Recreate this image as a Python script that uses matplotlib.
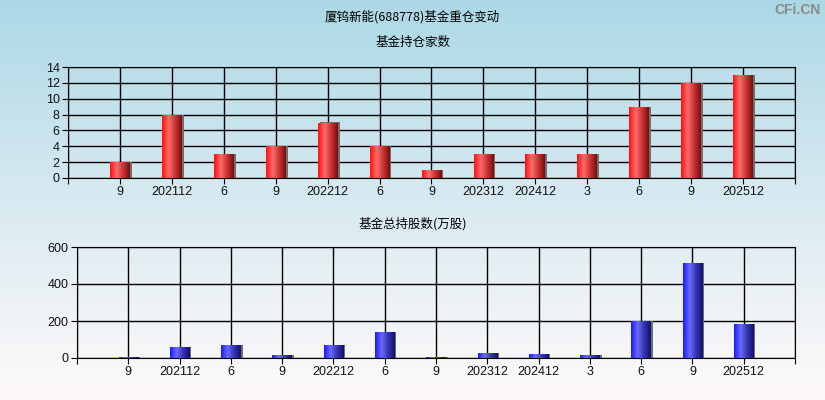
import numpy as np
import matplotlib
matplotlib.use('Agg')
import matplotlib.pyplot as plt
from matplotlib.colors import LinearSegmentedColormap

plt.rcParams['font.family'] = ['Liberation Sans', 'Noto Sans CJK SC', 'DejaVu Sans']

labels = ['9', '202112', '6', '9', '202212', '6', '9', '202312', '202412', '3', '6', '9', '202512']
fund_count = [2, 8, 3, 4, 7, 4, 1, 3, 3, 3, 9, 12, 13]
fund_shares = [6, 61, 72, 18, 72, 142, 4, 29, 23, 18, 198, 515, 186]

fig = plt.figure(figsize=(8.25, 4.0), dpi=100)

# background gradient
bg = fig.add_axes([0, 0, 1, 1], zorder=-10)
bg_cmap = LinearSegmentedColormap.from_list('bg', ['#acd8e6', '#d8eaf1', '#fffafa'])
bg.imshow(np.linspace(0, 1, 256).reshape(-1, 1), cmap=bg_cmap, aspect='auto', extent=[0, 1, 0, 1])
bg.axis('off')

red = LinearSegmentedColormap.from_list('red', ['#ff1010', '#ff6a6a', '#c83434', '#7a0c0c'])
blue = LinearSegmentedColormap.from_list('blue', ['#1a1aff', '#6a6aff', '#3434b0', '#101070'])
grad = np.linspace(0, 1, 64).reshape(1, -1)


def draw(ax, vals, cmap, ymax, yticks):
    x = np.arange(len(vals))
    w = 0.38
    ax.bar(x + 0.04, vals, w, color='#6e6e6e', zorder=2)
    bars = ax.bar(x, vals, w, color='none', zorder=3)
    for b in bars:
        im = ax.imshow(grad, cmap=cmap, aspect='auto', zorder=3,
                       extent=[b.get_x(), b.get_x() + b.get_width(), 0, b.get_height()])
        im.set_clip_path(b)
    ax.set_xlim(-1, len(vals))
    ax.set_ylim(0, ymax)
    ax.set_xticks(range(-1, len(vals) + 1))
    ax.set_xticklabels([''] + labels + [''])
    ax.set_yticks(yticks)
    ax.patch.set_alpha(0)
    ax.grid(True, color='black', lw=1, zorder=1)
    ax.set_axisbelow(True)
    for s in ax.spines.values():
        s.set_color('black')
    ax.tick_params(length=4, color='black', labelsize=9, labelcolor='#111111', pad=2)


ax1 = fig.add_axes([0.0824, 0.555, 0.8812, 0.2775])
draw(ax1, fund_count, red, 14, range(0, 15, 2))

ax2 = fig.add_axes([0.0933, 0.105, 0.8703, 0.2775])
draw(ax2, fund_shares, blue, 600, [0, 200, 400, 600])

fig.text(0.5, 0.957, '厦钨新能(688778)基金重仓变动', ha='center', va='center', fontsize=9,
         family=['Noto Sans CJK SC', 'DejaVu Sans'])
fig.text(0.5, 0.893, '基金持仓家数', ha='center', va='center', fontsize=9,
         family=['Noto Sans CJK SC', 'DejaVu Sans'])
fig.text(0.5, 0.44, '基金总持股数(万股)', ha='center', va='center', fontsize=9,
         family=['Noto Sans CJK SC', 'DejaVu Sans'])
fig.text(0.995, 0.975, 'CFi.CN', ha='right', va='center', fontsize=10, color='#8a8a8a',
         weight='bold')

fig.savefig('out.png', dpi=100)
